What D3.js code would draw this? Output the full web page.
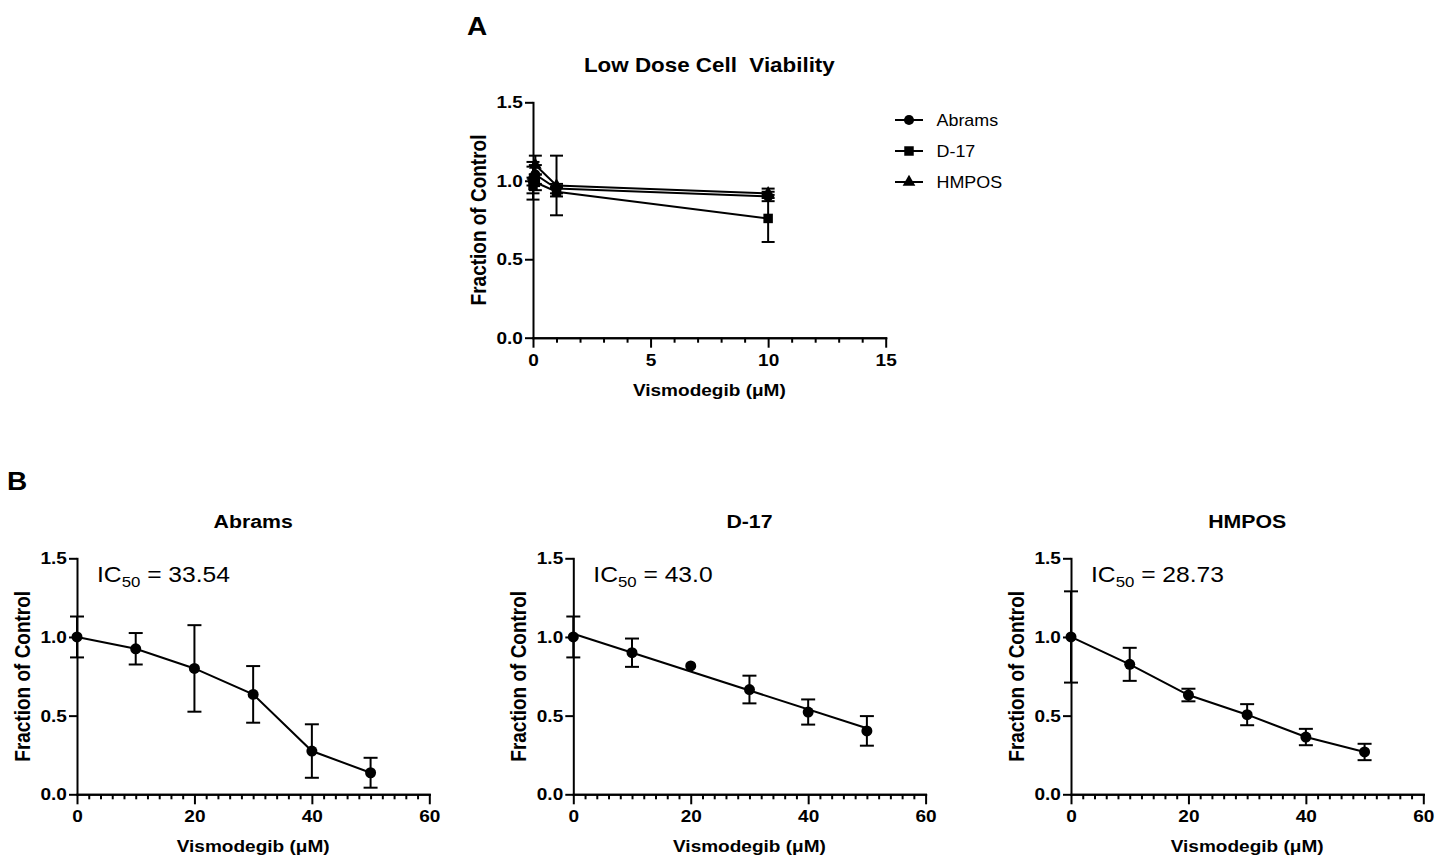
<!DOCTYPE html>
<html>
<head>
<meta charset="utf-8">
<script src="https://cdnjs.cloudflare.com/ajax/libs/d3/7.8.5/d3.min.js"></script>
<style>
  html, body { margin: 0; padding: 0; background: #fff; }
  svg text { font-family: "Liberation Sans", Arial, sans-serif; fill: #000; }
</style>
</head>
<body>
<div id="chart"></div>
<script>
// ---- data ----
const lowDoses = [0, 0.1, 1, 10];
const lowAbramsMean = [1.00, 1.04, 0.95, 0.90];
const lowAbramsSD   = [0.12, 0.06, 0.03, 0.03];
const lowD17Mean    = [0.97, 0.99, 0.93, 0.76];
const lowD17SD      = [0.05, 0.05, 0.03, 0.15];
const lowHmposMean  = [1.03, 1.10, 0.97, 0.92];
const lowHmposSD    = [0.06, 0.06, 0.19, 0.03];

const highDoses  = [0, 10, 20, 30, 40, 50];
const abramsMean = [1.00, 0.925, 0.80, 0.635, 0.275, 0.137];
const abramsSD   = [0.13, 0.10, 0.275, 0.18, 0.17, 0.095];
const d17Mean    = [1.00, 0.90, 0.816, 0.666, 0.523, 0.403];
const d17SD      = [0.13, 0.09, 0, 0.088, 0.08, 0.094];
const d17FitDoses = [0, 50];
const d17FitValues = [1.02, 0.42];
const hmposMean  = [1.00, 0.826, 0.631, 0.506, 0.364, 0.269];
const hmposSD    = [0.29, 0.105, 0.04, 0.067, 0.052, 0.052];

const cellLines = ['Abrams', 'D-17', 'HMPOS'];
const ic50Labels = ['33.54', '43.0', '28.73'];
const yTicks = [0, 0.5, 1.0, 1.5];

// text in the source is a bit wider than Arial
const SX = 1.12;

const svg = d3.select('#chart').append('svg')
    .attr('width', 1446)
    .attr('height', 858);

function label(sel, x, y, str, size, weight, anchor) {
    return sel.append('text')
        .attr('transform', `translate(${x},${y}) scale(${SX},1)`)
        .attr('text-anchor', anchor || 'middle')
        .style('font-size', size + 'px')
        .style('font-weight', weight || 'bold')
        .text(str);
}

function styleAxis(a) {
    a.select('.domain').attr('stroke-width', 2).attr('stroke-linecap', 'square');
    a.selectAll('.tick line').attr('stroke-width', 2);
    a.selectAll('.tick text')
        .style('font-size', '17px')
        .style('font-weight', 'bold')
        .style('font-family', '"Liberation Sans", Arial, sans-serif')
        .attr('transform', `scale(${SX},1)`);
}

function drawPanel(p) {
    const g = svg.append('g');
    const x = d3.scaleLinear().domain([0, p.xMax]).range([p.left, p.left + p.width]);
    const y = d3.scaleLinear().domain([0, 1.5]).range([p.top + p.height, p.top]);

    const xMajor = d3.range(0, p.xMax + p.major / 2, p.major);
    const xMinor = d3.range(0, p.xMax + p.minor / 2, p.minor)
        .filter(v => !xMajor.some(m => Math.abs(m - v) < 1e-9));

    const minorAxis = g.append('g')
        .attr('transform', `translate(0,${y(0)})`)
        .call(d3.axisBottom(x).tickValues(xMinor).tickSize(5).tickSizeOuter(0).tickFormat(''));
    styleAxis(minorAxis);

    const xAxis = g.append('g')
        .attr('transform', `translate(0,${y(0)})`)
        .call(d3.axisBottom(x).tickValues(xMajor).tickSize(10).tickSizeOuter(0)
            .tickPadding(6).tickFormat(d3.format('d')));
    styleAxis(xAxis);

    const yAxis = g.append('g')
        .attr('transform', `translate(${x(0)},0)`)
        .call(d3.axisLeft(y).tickValues(yTicks).tickSize(8).tickSizeOuter(0)
            .tickPadding(1).tickFormat(d3.format('.1f')));
    styleAxis(yAxis);

    // axis titles
    label(g, (x(0) + x(p.xMax)) / 2, y(0) + 58, 'Vismodegib (\u03BCM)', 17);
    g.append('text')
        .attr('transform', `translate(${x(0) - 47},${(y(0) + y(1.5)) / 2}) rotate(-90) scale(1,${SX})`)
        .attr('text-anchor', 'middle')
        .style('font-size', '19px')
        .style('font-weight', 'bold')
        .text('Fraction of Control');

    label(g, (x(0) + x(p.xMax)) / 2, y(1.5) - 30, p.title, p.titleSize);

    return { g, x, y };
}

function drawSeries(panel, doses, means, sds, symbolType, symbolSize, capHalf, connect) {
    const { g, x, y } = panel;
    const pts = doses.map((d, i) => ({ dose: d, mean: means[i], sd: sds[i] }));

    if (connect) {
        g.append('path')
            .datum(pts)
            .attr('fill', 'none')
            .attr('stroke', '#000')
            .attr('stroke-width', 2)
            .attr('d', d3.line().x(d => x(d.dose)).y(d => y(d.mean)));
    }

    const err = g.append('g').attr('stroke', '#000').attr('stroke-width', 2);
    pts.filter(d => d.sd > 0).forEach(d => {
        const cx = x(d.dose);
        err.append('line')
            .attr('x1', cx).attr('x2', cx)
            .attr('y1', y(d.mean - d.sd)).attr('y2', y(d.mean + d.sd));
        [d.mean - d.sd, d.mean + d.sd].forEach(v => {
            err.append('line')
                .attr('x1', cx - capHalf).attr('x2', cx + capHalf)
                .attr('y1', y(v)).attr('y2', y(v));
        });
    });

    g.selectAll(null)
        .data(pts)
        .enter()
        .append('path')
        .attr('transform', d => `translate(${x(d.dose)},${y(d.mean)})`)
        .attr('d', d3.symbol(symbolType, symbolSize))
        .attr('fill', '#000');
}

// ---- panel A ----
label(svg, 467, 35, 'A', 25, 'bold', 'start');

const panelA = drawPanel({
    left: 533, width: 352.7, top: 102.3, height: 235.4,
    xMax: 15, major: 5, minor: 1,
    title: 'Low Dose Cell\u00A0 Viability', titleSize: 20
});

const lowSeries = [
    { name: cellLines[0], mean: lowAbramsMean, sd: lowAbramsSD, sym: d3.symbolCircle, size: 80 },
    { name: cellLines[1], mean: lowD17Mean, sd: lowD17SD, sym: d3.symbolSquare, size: 90 },
    { name: cellLines[2], mean: lowHmposMean, sd: lowHmposSD, sym: d3.symbolTriangle, size: 70 }
];

lowSeries.forEach(s => drawSeries(panelA, lowDoses, s.mean, s.sd, s.sym, s.size, 6.5, true));

// legend
const legend = svg.append('g');
lowSeries.forEach((s, i) => {
    const ly = 120 + i * 31;
    legend.append('line')
        .attr('x1', 895).attr('x2', 923)
        .attr('y1', ly).attr('y2', ly)
        .attr('stroke', '#000').attr('stroke-width', 2);
    legend.append('path')
        .attr('transform', `translate(909,${ly})`)
        .attr('d', d3.symbol(s.sym, s.size))
        .attr('fill', '#000');
    label(legend, 936.5, ly + 6, s.name, 16, 'normal', 'start');
});

// ---- panel B ----
label(svg, 7, 490, 'B', 25, 'bold', 'start');

const bLefts = [77, 573.3, 1071];
const highSeries = [
    { mean: abramsMean, sd: abramsSD, connect: true },
    { mean: d17Mean, sd: d17SD, connect: false },
    { mean: hmposMean, sd: hmposSD, connect: true }
];

highSeries.forEach((s, i) => {
    const panel = drawPanel({
        left: bLefts[i], width: 352.3, top: 558.3, height: 236,
        xMax: 60, major: 20, minor: 2,
        title: cellLines[i], titleSize: 19
    });

    if (!s.connect) {
        panel.g.append('path')
            .datum(d17FitDoses.map((d, j) => [d, d17FitValues[j]]))
            .attr('fill', 'none')
            .attr('stroke', '#000')
            .attr('stroke-width', 2)
            .attr('d', d3.line().x(d => panel.x(d[0])).y(d => panel.y(d[1])));
    }

    drawSeries(panel, highDoses, s.mean, s.sd, d3.symbolCircle, 95, 7, s.connect);

    // IC50 annotation
    const t = panel.g.append('text')
        .attr('transform', `translate(${bLefts[i] + 20},581.7) scale(${SX},1)`)
        .style('font-size', '22px')
        .style('font-weight', 'normal');
    t.append('tspan').text('IC');
    t.append('tspan').attr('dy', 5).style('font-size', '15px').text('50');
    t.append('tspan').attr('dy', -5).text(' = ' + ic50Labels[i]);
});
</script>
</body>
</html>
